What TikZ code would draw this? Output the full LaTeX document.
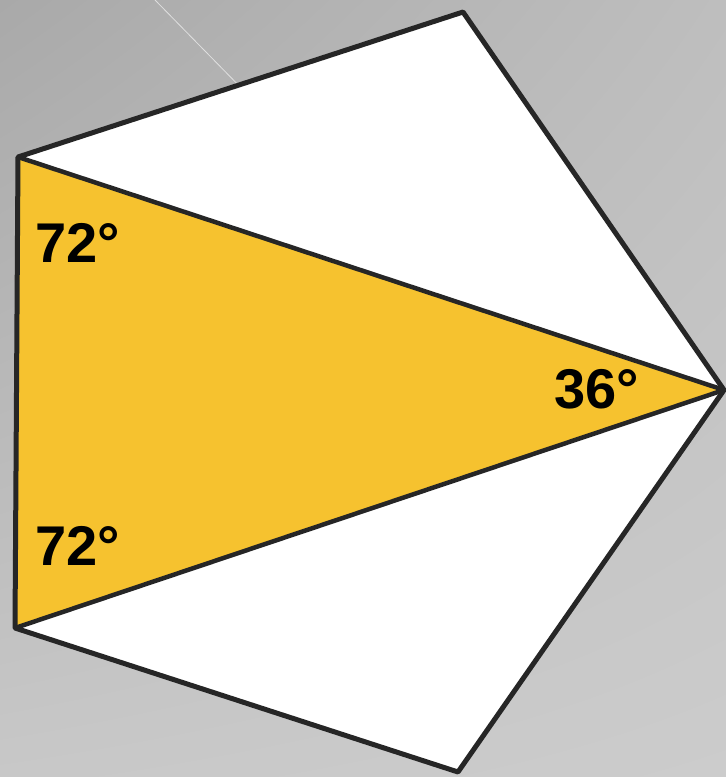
\documentclass[tikz,border=0pt]{standalone}
\usepackage{fontspec}
\setmainfont{Liberation Sans}
\usetikzlibrary{shadings}
\definecolor{bggray}{HTML}{A9A9A9}
\definecolor{bgright}{HTML}{BEBEBE}
\definecolor{bglow}{HTML}{C8C8C8}
\definecolor{bglowr}{HTML}{CCCCCC}
\definecolor{tri}{HTML}{F6C22F}
\definecolor{edge}{HTML}{262626}
\tikzset{
  angle/.style={font=\fontsize{56}{56}\selectfont\bfseries, text=black, inner sep=0pt}
}
\begin{document}
\begin{tikzpicture}[x=1pt, y=-1pt]
  \useasboundingbox (0,0) rectangle (726,777);
  \shade[upper left=bggray, upper right=bgright, lower left=bglow, lower right=bglowr] (0,0) rectangle (726,777);
  \draw[white, opacity=0.6, line width=0.8pt] (155,0) -- (255,102);
  % corners of the pentagon
  \coordinate (top) at (463,12);
  \coordinate (lefttop) at (18,157);
  \coordinate (leftbot) at (15,628);
  \coordinate (bottom) at (458,772);
  \coordinate (apex) at (724,390);
  \fill[white] (top) -- (apex) -- (bottom) -- (leftbot) -- (lefttop) -- cycle;
  \fill[tri] (lefttop) -- (apex) -- (leftbot) -- cycle;
  \draw[edge, line width=5pt, line join=round] (top) -- (apex) -- (bottom) -- (leftbot) -- (lefttop) -- cycle;
  \draw[edge, line width=4.5pt, line join=round] (lefttop) -- (apex) -- (leftbot);
  \node[angle] (angtop) at (78,243) {72°};
  \node[angle] (angbot) at (78,546) {72°};
  \node[angle] (angapex) at (597,389) {36°};
\end{tikzpicture}
\end{document}
